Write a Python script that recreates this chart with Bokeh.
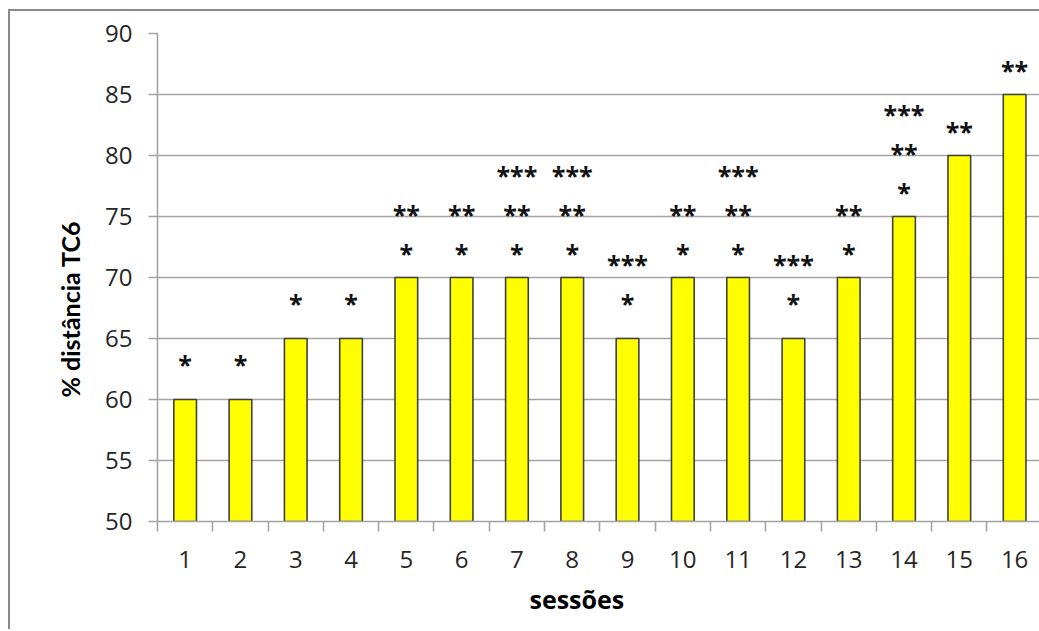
from bokeh.plotting import figure
from bokeh.models import ColumnDataSource, FixedTicker, Range1d, Title
from bokeh.core.properties import value
from bokeh.embed import file_html
from bokeh.resources import INLINE

# ---- data ----
sessions = list(range(1, 17))
distance_pct = [60, 60, 65, 65, 70, 70, 70, 70, 65, 70, 70, 65, 70, 75, 80, 85]
# significance marks per session, listed bottom line first
marks = [
    ["*"], ["*"], ["*"], ["*"],
    ["*", "**"], ["*", "**"],
    ["*", "**", "***"], ["*", "**", "***"],
    ["*", "***"], ["*", "**"],
    ["*", "**", "***"], ["*", "***"],
    ["*", "**"], ["*", "**", "***"],
    ["**"], ["**"],
]
y_ticks = [50, 55, 60, 65, 70, 75, 80, 85, 90]
x_title = "sessões"
y_title = "% distância TC6"

FONT = "Open Sans"
GRID = "#a3a3a3"
FRAME = "#8a8a8a"

p = figure(
    frame_width=882, frame_height=488,
    x_range=Range1d(0.5, 16.45), y_range=Range1d(50, 90),
    output_backend="svg", toolbar_location=None, tools="",
    min_border_left=157, min_border_right=0,
    min_border_top=33, min_border_bottom=108,
)
p.border_fill_color = None
p.background_fill_color = "white"
p.outline_line_color = None
p.styles = {
    "background-image": f"linear-gradient({FRAME},{FRAME}), linear-gradient({FRAME},{FRAME})",
    "background-position": "8px 9px, 8px 9px",
    "background-size": "2px 100%, 100% 2px",
    "background-repeat": "no-repeat",
}

# bars
src = ColumnDataSource(dict(x=sessions, top=distance_pct))
p.vbar(x="x", top="top", bottom=50, width=0.41, source=src,
       fill_color="#ffff00", line_color="#404040", line_width=1.6)

# significance marks
mx, my, mt, moff = [], [], [], []
for s, v, lines in zip(sessions, distance_pct, marks):
    base = 26 if "**" in lines else 37
    for i, t in enumerate(lines):
        mx.append(s)
        my.append(v)
        mt.append(t)
        moff.append(-(base + 39 * i) + 1.5)
msrc = ColumnDataSource(dict(x=mx, y=my, text=mt, yoff=moff))
p.text(x="x", y="y", text="text", y_offset="yoff", source=msrc,
       text_font=value(FONT), text_font_size="25px", text_color="#111111",
       text_font_style="bold",
       text_align="center", text_baseline="alphabetic")

# y axis
p.yaxis.ticker = FixedTicker(ticks=y_ticks)
p.yaxis.axis_line_color = GRID
p.yaxis.axis_line_width = 1.6
p.yaxis.major_tick_line_color = GRID
p.yaxis.major_tick_line_width = 1.6
p.yaxis.major_tick_out = 9
p.yaxis.major_tick_in = 0
p.yaxis.minor_tick_line_color = None
p.yaxis.major_label_text_font = FONT
p.yaxis.major_label_text_font_size = "24px"
p.yaxis.major_label_text_color = "#262626"
p.yaxis.major_label_standoff = 16

# x axis: labels at centres, ticks at category boundaries
p.xaxis.ticker = FixedTicker(ticks=sessions,
                             minor_ticks=[s - 0.5 for s in sessions] + [16.5])
p.xaxis.axis_line_color = GRID
p.xaxis.axis_line_width = 1.6
p.xaxis.major_tick_line_color = None
p.xaxis.major_tick_out = 0
p.xaxis.major_tick_in = 0
p.xaxis.minor_tick_line_color = GRID
p.xaxis.minor_tick_line_width = 1.6
p.xaxis.minor_tick_out = 10
p.xaxis.minor_tick_in = 0
p.xaxis.major_label_text_font = FONT
p.xaxis.major_label_text_font_size = "24px"
p.xaxis.major_label_text_color = "#262626"
p.xaxis.major_label_standoff = 19

# grid
p.xgrid.grid_line_color = None
p.ygrid.ticker = FixedTicker(ticks=y_ticks)
p.ygrid.grid_line_color = GRID
p.ygrid.grid_line_width = 1.6

# axis titles
p.add_layout(Title(text=x_title, align="left", offset=372, standoff=19,
                   text_font=FONT, text_font_size="25px",
                   text_font_style="bold", text_color="#000000"), "below")
p.add_layout(Title(text=y_title, align="left", offset=124, standoff=35,
                   text_font="Lato", text_font_size="25px",
                   text_font_style="bold", text_color="#000000"), "left")

open("out.html", "w").write(file_html(p, INLINE))
